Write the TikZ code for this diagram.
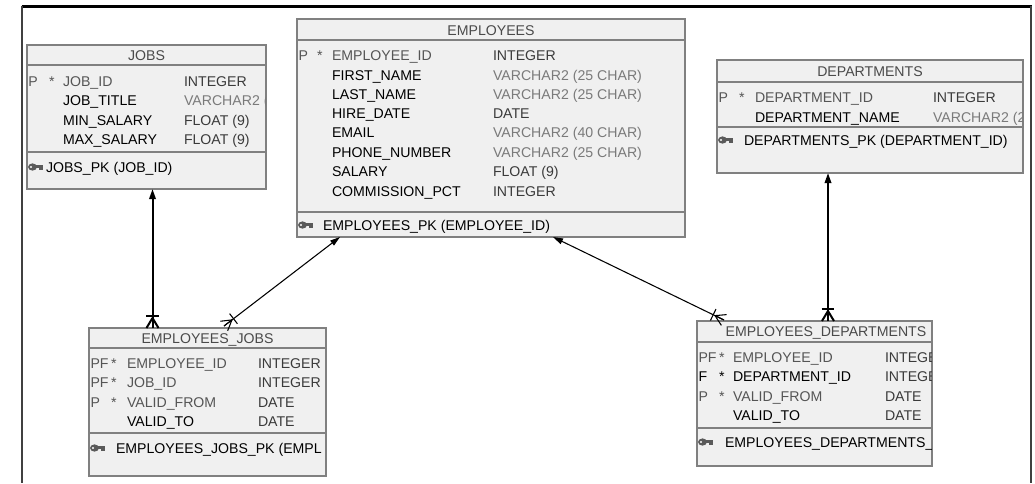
\documentclass[tikz,border=0pt]{standalone}
\usepackage{fontspec}
\setmainfont{Liberation Sans}
\usetikzlibrary{arrows.meta,calc}
\definecolor{boxfill}{HTML}{F0F0F0}
\definecolor{boxline}{HTML}{808080}
\definecolor{pkgray}{HTML}{555555}
\definecolor{typedark}{HTML}{3A3A3A}
\definecolor{typelight}{HTML}{7A7A7A}
\definecolor{titlegray}{HTML}{4A4A4A}
\definecolor{framegray}{HTML}{404040}
\definecolor{keygray}{HTML}{5A5A5A}

\newcommand\xf{0}\newcommand\xs{0}\newcommand\xn{0}\newcommand\xt{0}
% #1 id, #2 baseline, #3 flag, #4 star, #5 name, #6 type, #7 name colour, #8 type colour
\newcommand\erow[8]{%
  \node[txt,text=#7] (#1f) at (\xf,#2) {#3};
  \node[txt,text=#7] (#1s) at (\xs,#2) {#4};
  \node[txt,text=#7] (#1n) at (\xn,#2) {#5};
  \node[txt,text=#8] (#1t) at (\xt,#2) {#6};
}
% key icon: #1 x, #2 y centre
\newcommand\keyicon[2]{%
  \fill[keygray] (#1+4.5,#2) ellipse (3.3pt and 2.7pt);
  \fill[keygray] (#1+7,#2-1.8) rectangle (#1+15,#2+1.3);
  \fill[keygray] (#1+11,#2) rectangle (#1+15,#2+3);
  \fill[white] (#1+3,#2) circle (0.9pt);
}
% crow's foot with bar: #1 end point, #2 other end, #3 style
\newcommand\crowfoot[3]{%
  \draw[#3] ($(#1)!7.5pt!(#2)$) -- ($(#1)!4.5pt!90:(#2)$);
  \draw[#3] ($(#1)!7.5pt!(#2)$) -- (#1);
  \draw[#3] ($(#1)!7.5pt!(#2)$) -- ($(#1)!4.5pt!-90:(#2)$);
  \draw[#3] ($($(#1)!9pt!(#2)$)!4.8pt!90:(#2)$) -- ($($(#1)!9pt!(#2)$)!4.8pt!-90:(#2)$);
}

\begin{document}
\begin{tikzpicture}[x=0.75pt,y=-0.75pt,
  tbl/.style={draw=boxline, fill=boxfill, line width=1.1pt, inner sep=0pt, outer sep=0pt, anchor=north west},
  sep/.style={draw=boxline, line width=1.1pt},
  txt/.style={inner sep=0pt, outer sep=0pt, anchor=base west, font=\fontsize{10.6}{12}\selectfont},
  ttl/.style={inner sep=0pt, outer sep=0pt, anchor=base, text=titlegray, font=\fontsize{10.6}{12}\selectfont},
  thinrel/.style={line width=0.8pt, black},
  thickrel/.style={line width=1.5pt, black},
  thinpk/.style={thinrel, -{Triangle[length=7.5pt,width=4.5pt]}},
  thickpk/.style={thickrel, -{Triangle[length=7.5pt,width=4.8pt]}}
]
\useasboundingbox (0,0) rectangle (1035,483);
\fill[white] (0,0) rectangle (1035,483);
% frame
\draw[line width=1.6pt, black] (21.5,6.5) -- (1031.5,6.5);
\draw[line width=1.1pt, framegray] (22,6) -- (22,483);
\draw[line width=1.1pt, framegray] (1031,6) -- (1031,483);

% ---------------- JOBS ----------------
\node[tbl, minimum width={(266-27)*0.75pt}, minimum height={(189-45)*0.75pt}] (jobs) at (27,45) {};
\draw[sep] (27,65) -- (266,65);
\draw[sep] (27,152) -- (266,152);
\begin{scope}
\clip (27,45) rectangle (265.5,189);
\node[ttl] (jobsT) at (146.5,60) {JOBS};
\renewcommand\xf{28.5}\renewcommand\xs{49}\renewcommand\xn{63}\renewcommand\xt{184}
\erow{jobs1}{86}{P}{*}{JOB\_ID}{INTEGER}{pkgray}{typedark}
\erow{jobs2}{105}{}{}{JOB\_TITLE}{VARCHAR2 (}{black}{typelight}
\erow{jobs3}{125}{}{}{MIN\_SALARY}{FLOAT (9)}{black}{typedark}
\erow{jobs4}{144}{}{}{MAX\_SALARY}{FLOAT (9)}{black}{typedark}
\keyicon{28}{167}
\node[txt] (jobsK) at (46,172) {JOBS\_PK (JOB\_ID)};
\end{scope}

% ---------------- EMPLOYEES ----------------
\node[tbl, minimum width={(685-297)*0.75pt}, minimum height={(237-19)*0.75pt}] (emp) at (297,19) {};
\draw[sep] (297,40) -- (685,40);
\draw[sep] (297,212) -- (685,212);
\begin{scope}
\clip (297,19) rectangle (684.5,237);
\node[ttl] (empT) at (491,35) {EMPLOYEES};
\renewcommand\xf{298.5}\renewcommand\xs{317}\renewcommand\xn{332}\renewcommand\xt{493}
\erow{emp1}{60}{P}{*}{EMPLOYEE\_ID}{INTEGER}{pkgray}{typedark}
\erow{emp2}{80}{}{}{FIRST\_NAME}{VARCHAR2 (25 CHAR)}{black}{typelight}
\erow{emp3}{99}{}{}{LAST\_NAME}{VARCHAR2 (25 CHAR)}{black}{typelight}
\erow{emp4}{118}{}{}{HIRE\_DATE}{DATE}{black}{typedark}
\erow{emp5}{137}{}{}{EMAIL}{VARCHAR2 (40 CHAR)}{black}{typelight}
\erow{emp6}{157}{}{}{PHONE\_NUMBER}{VARCHAR2 (25 CHAR)}{black}{typelight}
\erow{emp7}{176}{}{}{SALARY}{FLOAT (9)}{black}{typedark}
\erow{emp8}{196}{}{}{COMMISSION\_PCT}{INTEGER}{black}{typedark}
\keyicon{298}{225}
\node[txt] (empK) at (323,230) {EMPLOYEES\_PK (EMPLOYEE\_ID)};
\end{scope}

% ---------------- DEPARTMENTS ----------------
\node[tbl, minimum width={(1023-717)*0.75pt}, minimum height={(173-60)*0.75pt}] (dep) at (717,60) {};
\draw[sep] (717,82) -- (1023,82);
\draw[sep] (717,127) -- (1023,127);
\begin{scope}
\clip (717,60) rectangle (1022.5,173);
\node[ttl] (depT) at (870,76) {DEPARTMENTS};
\renewcommand\xf{718.5}\renewcommand\xs{739}\renewcommand\xn{755}\renewcommand\xt{933}
\erow{dep1}{102}{P}{*}{DEPARTMENT\_ID}{INTEGER}{pkgray}{typedark}
\erow{dep2}{122}{}{}{DEPARTMENT\_NAME}{VARCHAR2 (2}{black}{typelight}
\keyicon{718}{140}
\node[txt] (depK) at (744,145) {DEPARTMENTS\_PK (DEPARTMENT\_ID)};
\end{scope}

% ---------------- EMPLOYEES_JOBS ----------------
\node[tbl, minimum width={(326-89)*0.75pt}, minimum height={(476-328)*0.75pt}] (ej) at (89,328) {};
\draw[sep] (89,348) -- (326,348);
\draw[sep] (89,433) -- (326,433);
\begin{scope}
\clip (89,328) rectangle (325.5,476);
\node[ttl] (ejT) at (207.5,343) {EMPLOYEES\_JOBS};
\renewcommand\xf{90.5}\renewcommand\xs{111}\renewcommand\xn{127}\renewcommand\xt{258}
\erow{ej1}{368}{PF}{*}{EMPLOYEE\_ID}{INTEGER}{pkgray}{typedark}
\erow{ej2}{387}{PF}{*}{JOB\_ID}{INTEGER}{pkgray}{typedark}
\erow{ej3}{407}{P}{*}{VALID\_FROM}{DATE}{pkgray}{typedark}
\erow{ej4}{426}{}{}{VALID\_TO}{DATE}{black}{typedark}
\keyicon{90}{448}
\node[txt] (ejK) at (116,453) {EMPLOYEES\_JOBS\_PK (EMPL};
\end{scope}

% ---------------- EMPLOYEES_DEPARTMENTS ----------------
\node[tbl, minimum width={(932-697)*0.75pt}, minimum height={(466-321)*0.75pt}] (ed) at (697,321) {};
\draw[sep] (697,342) -- (932,342);
\draw[sep] (697,428) -- (932,428);
\begin{scope}
\clip (697,321) rectangle (931.5,466);
\node[ttl] (edT) at (826,336) {EMPLOYEES\_DEPARTMENTS};
\renewcommand\xf{698.5}\renewcommand\xs{719}\renewcommand\xn{733}\renewcommand\xt{885}
\erow{ed1}{362}{PF}{*}{EMPLOYEE\_ID}{INTEGE}{pkgray}{typedark}
\erow{ed2}{381}{F}{*}{DEPARTMENT\_ID}{INTEGE}{black}{typedark}
\erow{ed3}{401}{P}{*}{VALID\_FROM}{DATE}{pkgray}{typedark}
\erow{ed4}{420}{}{}{VALID\_TO}{DATE}{black}{typedark}
\keyicon{698}{442}
\node[txt] (edK) at (725,447) {EMPLOYEES\_DEPARTMENTS\_};
\end{scope}

% ---------------- connectors ----------------
\coordinate (c1a) at ($(jobs.south west)+(125.5,0)$);
\coordinate (c1b) at ($(ej.north west)+(63.5,0)$);
\draw[thickpk] (c1b) -- (c1a);
\crowfoot{c1b}{c1a}{thickrel}

\coordinate (c2a) at ($(emp.south west)+(43,0)$);
\coordinate (c2b) at ($(ej.north west)+(135,-2)$);
\draw[thinpk] (c2b) -- (c2a);
\crowfoot{c2b}{c2a}{thinrel}

\coordinate (c3a) at ($(emp.south west)+(256,0)$);
\coordinate (c3b) at ($(ed.north west)+(27,-1)$);
\draw[thinpk] (c3b) -- (c3a);
\crowfoot{c3b}{c3a}{thinrel}

\coordinate (c4a) at ($(dep.south west)+(111,0)$);
\coordinate (c4b) at ($(ed.north west)+(131,0)$);
\draw[thickpk] (c4b) -- (c4a);
\crowfoot{c4b}{c4a}{thickrel}
\end{tikzpicture}
\end{document}
